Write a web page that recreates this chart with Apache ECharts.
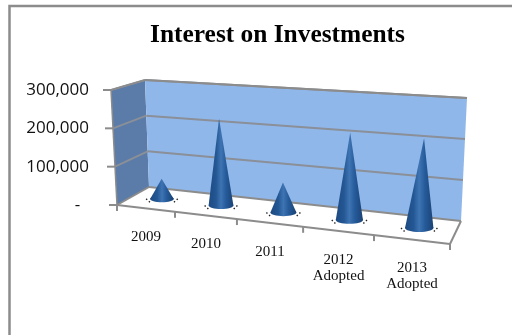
<!DOCTYPE html>
<html><head><meta charset="utf-8">
<style>html,body{margin:0;padding:0;background:#fff}#c{width:512px;height:335px}</style>
<script src="https://cdn.jsdelivr.net/npm/echarts@6/dist/echarts.min.js"></script>
</head><body><div id="c"></div>
<script>
const chartTitle = 'Interest on Investments';
const categories = ['2009', '2010', '2011', '2012\nAdopted', '2013\nAdopted'];
const values = [54000, 226000, 76000, 215000, 214000];
const yTicks = [0, 100000, 200000, 300000];

// Perspective frame of the 3D box: floor and ceiling corners
const floorQuad = [[117,205],[450,244],[461,221],[149,187]];
const topQuad = [[111,90],[457,112],[467,98],[145,80]];

function homography(q){
  const [p0,p1,p2,p3]=q;
  const sx=p0[0]-p1[0]+p2[0]-p3[0], sy=p0[1]-p1[1]+p2[1]-p3[1];
  const dx1=p1[0]-p2[0], dx2=p3[0]-p2[0], dy1=p1[1]-p2[1], dy2=p3[1]-p2[1];
  const det=dx1*dy2-dx2*dy1;
  const g=(sx*dy2-dx2*sy)/det, h=(dx1*sy-sx*dy1)/det;
  const a=p1[0]-p0[0]+g*p1[0], b=p3[0]-p0[0]+h*p3[0], c=p0[0];
  const d=p1[1]-p0[1]+g*p1[1], e=p3[1]-p0[1]+h*p3[1], f=p0[1];
  return (u,w)=>{const k=g*u+h*w+1;return [(a*u+b*w+c)/k,(d*u+e*w+f)/k];};
}
const floorH=homography(floorQuad), topH=homography(topQuad);
function proj(u,d,v){
  const uw=u-0.05*u*(1-u)*(1-d);
  const F=floorH(uw,d),T=topH(uw,d);
  return [F[0]+(T[0]-F[0])*v,F[1]+(T[1]-F[1])*v];
}
const grey='#8c8c8c';
const line=(a,b,w,col)=>({type:'line',shape:{x1:a[0],y1:a[1],x2:b[0],y2:b[1]},style:{stroke:col||grey,lineWidth:w||1.5}});
const poly=(pts,fill)=>({type:'polygon',shape:{points:pts},style:{fill:fill}});

function renderFrame(params,api){
  const cs=params.coordSys;
  const vOf=val=>(cs.y+cs.height-api.coord([0,val])[1])/cs.height;
  const top=vOf(yTicks[yTicks.length-1]);
  const kids=[
    poly([proj(0,0,0),proj(1,0,0),proj(1,1,0),proj(0,1,0)],'#ffffff'),
    poly([proj(0,0,0),proj(0,1,0),proj(0,1,top),proj(0,0,top)],'#5b7ca8'),
    poly([proj(0,1,0),proj(1,1,0),proj(1,1,top),proj(0,1,top)],'#90b7ea')
  ];
  yTicks.forEach(t=>{
    const v=vOf(t);
    if(t>0){
      kids.push(line(proj(0,0,v),proj(0,1,v),2,'#8a8f98'));
      kids.push(line(proj(0,1,v),proj(1,1,v),2,'#8a8f98'));
    }
    const p=proj(0,0,v);
    kids.push(line([p[0]-8,p[1]],p,2));
  });
  kids.push(line(proj(0,0,0),proj(0,0,top),1.5));
  kids.push(line(proj(0,0,top),proj(0,1,top),1.5));
  kids.push(line(proj(0,1,top),proj(1,1,top),2));
  kids.push(line(proj(0,0,0),proj(1,0,0),2));
  kids.push(line(proj(1,0,0),proj(1,1,0),2));
  kids.push(line(proj(0,0,0),proj(0,1,0),2));
  kids.push(line(proj(0,1,0),proj(1,1,0),2));
  for(let i=0;i<=categories.length;i++){
    const p=proj(i/categories.length,0,0);
    kids.push(line(p,[p[0],p[1]+6],2));
  }
  return {type:'group',children:kids};
}

function renderCone(params,api){
  const cs=params.coordSys;
  const pt=api.coord([api.value(0),api.value(1)]);
  const u=(pt[0]-cs.x)/cs.width, v=(cs.y+cs.height-pt[1])/cs.height;
  const base=proj(u,0.5,0), apex=proj(u,0.5,v);
  apex[0]+=3*v/0.7;
  const rx=11.5+u*3, ry=rx*0.28;
  const mk=()=>({type:'linear',x:0,y:0,x2:1,y2:0,colorStops:[
    {offset:0,color:'#1e4a82'},{offset:0.3,color:'#235794'},{offset:0.5,color:'#3f74b3'},
    {offset:0.7,color:'#255b9a'},{offset:1,color:'#1b4274'}]});
  const dots=(sx)=>({type:'line',shape:{x1:base[0]+sx*(rx+4),y1:base[1],x2:base[0]+sx*(rx-1),y2:base[1]+ry+1},
    style:{stroke:'#222',lineWidth:1.4,lineDash:[1.4,2.2]}});
  return {type:'group',children:[
    dots(-1),dots(1),
    {type:'ellipse',shape:{cx:base[0],cy:base[1],rx:rx,ry:ry},style:{fill:mk()}},
    {type:'polygon',shape:{points:[[base[0]-rx,base[1]],[base[0]+rx,base[1]],apex]},style:{fill:mk()}}
  ]};
}

function renderLabel(params,api){
  const n=categories.length, i=params.dataIndex;
  const a=proj(i/n,0,0), b=proj((i+1)/n,0,0);
  return {type:'text',style:{x:(a[0]+b[0])/2,y:(a[1]+b[1])/2+21,text:categories[i],
    fill:'#111',font:'15px "Liberation Serif"',lineHeight:16,align:'center',verticalAlign:'top'}};
}

const chart=echarts.init(document.getElementById('c'),null,{renderer:'canvas'});
chart.setOption({
  animation:false,
  backgroundColor:'#ffffff',
  title:{text:chartTitle,left:272.5,top:18,textAlign:'center',
    textStyle:{fontFamily:'Liberation Serif',fontWeight:'bold',fontSize:25.4,color:'#000'}},
  graphic:[{type:'rect',shape:{x:9.5,y:6,width:700,height:600},style:{fill:'none',stroke:grey,lineWidth:2.5},silent:true}],
  grid:{left:117,top:90,width:333,height:115},
  xAxis:{type:'category',data:categories,show:false},
  yAxis:{type:'value',min:yTicks[0],max:yTicks[yTicks.length-1],interval:yTicks[1],
    axisLine:{show:false},axisTick:{show:false},splitLine:{show:false},
    axisLabel:{margin:28,color:'#111',fontFamily:'Open Sans',fontSize:17,
      formatter:v=>v===0?'-  ':v.toLocaleString('en-US')}},
  series:[
    {type:'custom',renderItem:renderFrame,data:[[0,0]],silent:true,clip:false,z:1},
    {type:'custom',renderItem:renderLabel,data:categories.map((c,i)=>[i,0]),silent:true,clip:false,z:2},
    {type:'custom',renderItem:renderCone,data:values.map((v,i)=>[i,v]),silent:true,clip:false,z:3,encode:{x:0,y:1}}
  ]
});
</script></body></html>
